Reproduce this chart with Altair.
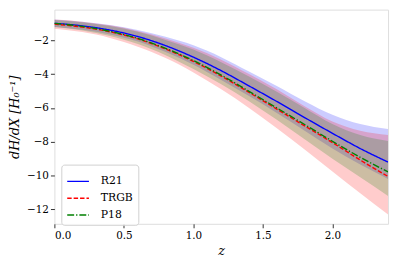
import altair as alt
import pandas as pd

z = [0.0, 0.2, 0.4, 0.6, 0.8, 1.0, 1.2, 1.4, 1.6, 1.8, 2.0, 2.2, 2.4]

r21_mid = [-1.0, -1.15, -1.4, -1.78, -2.32, -3.0, -3.8, -4.7, -5.62, -6.57, -7.5, -8.4, -9.2]
r21_hi = [-0.78, -0.9, -1.1, -1.4, -1.8, -2.3, -3.0, -3.85, -4.7, -5.6, -6.4, -6.95, -7.25]
r21_lo = [-1.22, -1.38, -1.66, -2.08, -2.7, -3.45, -4.35, -5.3, -6.3, -7.35, -8.4, -9.35, -10.2]

trgb_mid = [-1.05, -1.22, -1.5, -1.92, -2.52, -3.25, -4.12, -5.08, -6.07, -7.06, -8.05, -9.08, -10.05]
trgb_hi = [-0.78, -0.9, -1.12, -1.45, -1.9, -2.45, -3.15, -4.0, -4.9, -5.9, -6.8, -7.35, -7.6]
trgb_lo = [-1.32, -1.52, -1.86, -2.38, -3.05, -3.9, -4.9, -6.0, -7.2, -8.45, -9.75, -11.05, -12.3]

p18_mid = [-1.0, -1.18, -1.47, -1.89, -2.48, -3.2, -4.06, -5.02, -6.0, -6.98, -7.97, -8.92, -9.78]
p18_hi = [-0.8, -0.94, -1.16, -1.5, -1.98, -2.55, -3.3, -4.15, -5.05, -6.0, -6.95, -7.6, -7.95]
p18_lo = [-1.22, -1.42, -1.75, -2.22, -2.88, -3.7, -4.6, -5.6, -6.7, -7.85, -9.0, -10.1, -11.2]

series = ["R21", "TRGB", "P18"]
colors = ["#0000ff", "#ff0000", "#008000"]
dashes = [[1, 0], [4.5, 2], [7, 2, 1.3, 2]]

y_ticks = [-12, -10, -8, -6, -4, -2]
x_ticks = [0.0, 0.5, 1.0, 1.5, 2.0]

rows = []
for name, mid, lo, hi in [("R21", r21_mid, r21_lo, r21_hi),
                          ("TRGB", trgb_mid, trgb_lo, trgb_hi),
                          ("P18", p18_mid, p18_lo, p18_hi)]:
    for zi, m, l, h in zip(z, mid, lo, hi):
        rows.append({"z": zi, "mid": m, "lo": l, "hi": h, "series": name})
df = pd.DataFrame(rows)

FONT = "DejaVu Serif"
xscale = alt.Scale(domain=[0, 2.4], nice=False, zero=False)
yscale = alt.Scale(domain=[-12.85, -0.19], nice=False, zero=False)

common = dict(grid=False, domain=False, tickSize=4, tickColor="#333",
              labelFont=FONT, titleFont=FONT, labelFontSize=10.5, titleFontSize=13,
              titleFontWeight="normal", titleFontStyle="italic",
              labelColor="black", titleColor="black")
xaxis = alt.Axis(values=x_ticks, format=".1f", title="z",
                 labelPadding=3, titlePadding=4, **common)
yaxis = alt.Axis(values=y_ticks, title="dH/dX [H₀⁻¹]",
                 labelPadding=2, titlePadding=5, **common)

base = alt.Chart(df)

layers = []
for name, col in zip(series, colors):
    layers.append(
        base.transform_filter(alt.datum.series == name)
        .mark_area(opacity=0.2, color=col, interpolate="monotone", clip=True)
        .encode(x=alt.X("z:Q", scale=xscale, axis=xaxis),
                y=alt.Y("lo:Q", scale=yscale, axis=yaxis),
                y2="hi:Q")
    )

lines = base.mark_line(strokeWidth=1.4, interpolate="monotone", clip=True).encode(
    x=alt.X("z:Q", scale=xscale, axis=xaxis),
    y=alt.Y("mid:Q", scale=yscale, axis=yaxis),
    color=alt.Color("series:N", scale=alt.Scale(domain=series, range=colors),
                    legend=alt.Legend(title=None, orient="none", legendX=7, legendY=157,
                                      symbolType="stroke", symbolSize=484,
                                      symbolStrokeWidth=1.5, labelFont=FONT,
                                      labelFontSize=11, labelColor="black",
                                      rowPadding=-5, padding=5, labelOffset=11,
                                      fillColor="rgba(255,255,255,0.8)",
                                      strokeColor="#d0d0d0", cornerRadius=3)),
    strokeDash=alt.StrokeDash("series:N", scale=alt.Scale(domain=series, range=dashes)),
    order=alt.Order("order:Q"),
).transform_calculate(order="indexof(['R21','TRGB','P18'], datum.series)")

chart = alt.layer(*layers, lines).properties(
    width=338, height=217,
    autosize=alt.AutoSizeParams(type="none"),
    padding={"left": 47, "top": 0, "right": 4, "bottom": 35},
).configure_view(stroke="#222", strokeWidth=1).configure(font=FONT)

chart.save("out.html", embed_options={"renderer": "svg", "actions": False})
